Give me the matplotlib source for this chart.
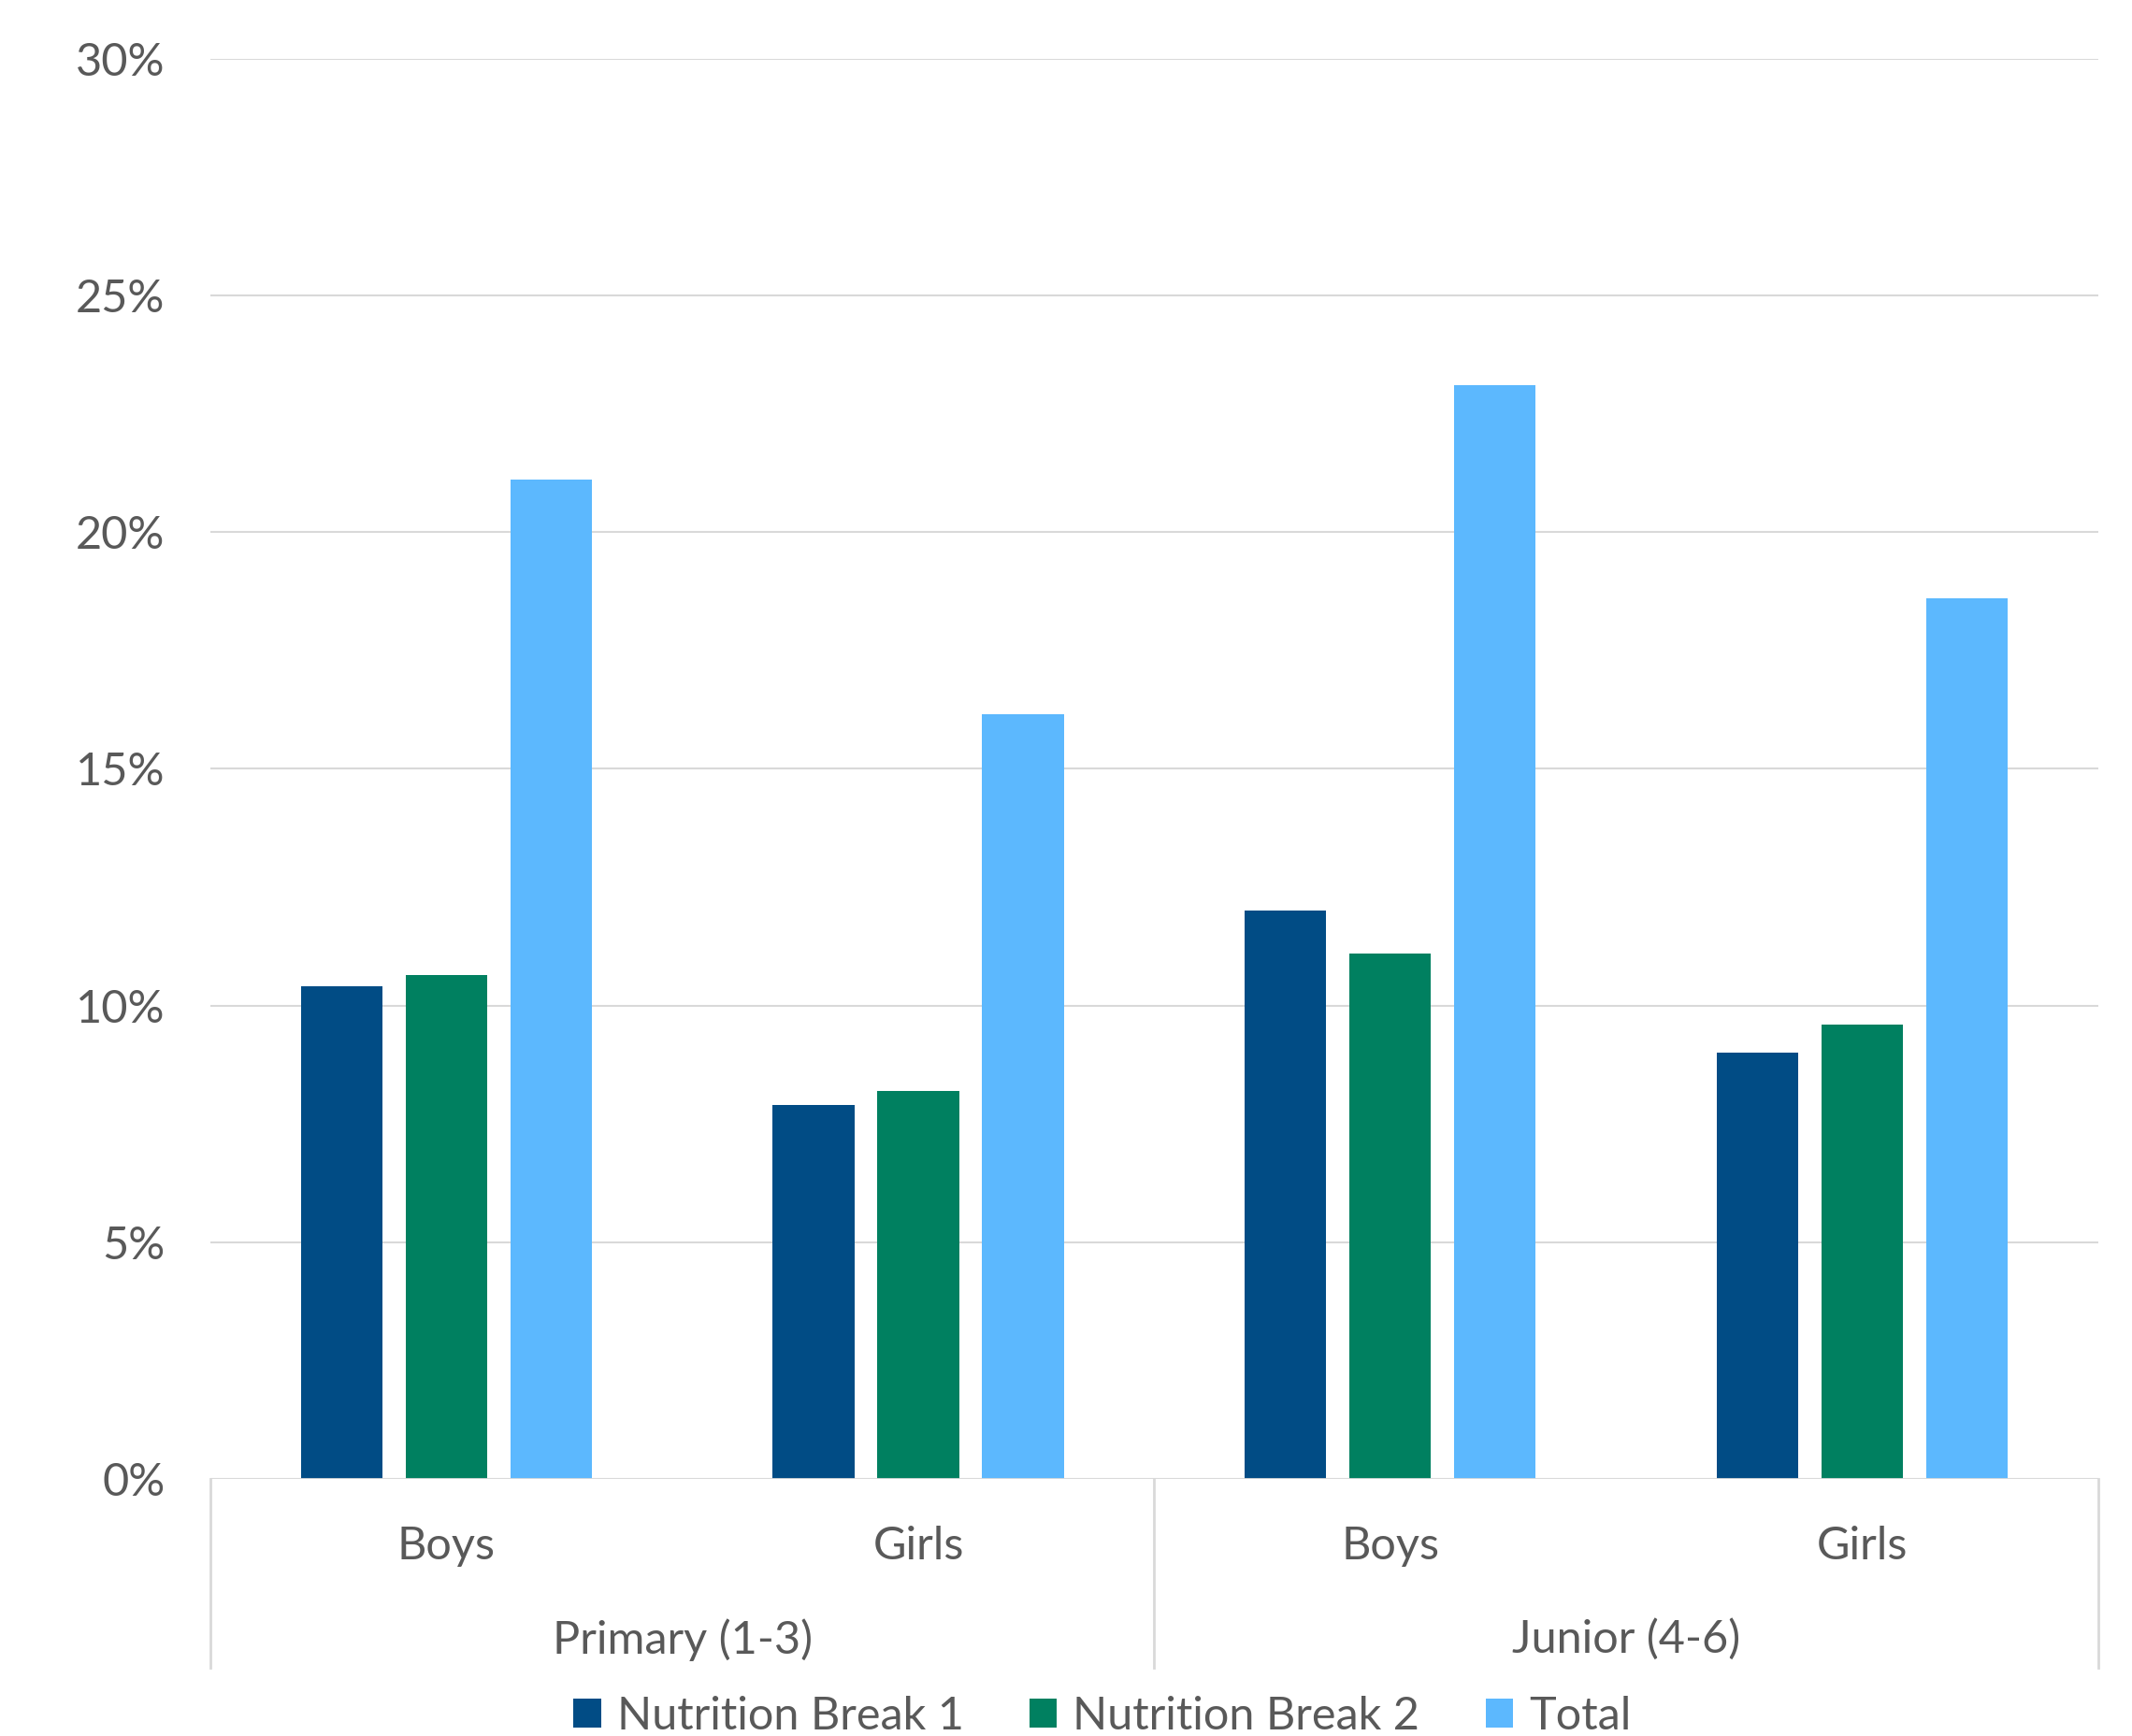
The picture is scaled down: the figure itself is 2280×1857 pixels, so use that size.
import matplotlib.pyplot as plt
from matplotlib import transforms
import numpy as np

# data (percent)
groups = ["Primary (1-3)", "Junior (4-6)"]
genders = ["Boys", "Girls", "Boys", "Girls"]
series = ["Nutrition Break 1", "Nutrition Break 2", "Total"]
break1 = [10.4, 7.9, 12.0, 9.0]
break2 = [10.65, 8.2, 11.1, 9.6]
total = [21.1, 16.15, 23.1, 18.6]
yticks = [0, 5, 10, 15, 20, 25, 30]

colors = ["#014C85", "#008060", "#5CB8FE"]
txt = "#595959"
grid = "#D9D9D9"
fs = 35

plt.rcParams['font.family'] = ['Lato', 'DejaVu Sans']

fig = plt.figure(figsize=(22.8, 18.57), dpi=100)
ax = fig.add_axes([0.0987, 0.148, 0.8853, 0.8183])

x = np.arange(len(genders))
w = 0.173
step = 0.222
for i, (vals, name) in enumerate(zip([break1, break2, total], series)):
    ax.bar(x + (i - 1) * step, vals, width=w, color=colors[i], label=name, zorder=3)

ax.set_xlim(-0.5, 3.5)
ax.set_ylim(0, 30)
ax.set_yticks(yticks)
ax.set_yticklabels([f"{t}%" for t in yticks])
ax.tick_params(axis='y', length=0, pad=35, labelsize=fs, labelcolor=txt)
ax.set_xticks([])
ax.grid(axis='y', color=grid, lw=1.5, zorder=0)
for s in ax.spines.values():
    s.set_visible(False)
ax.axhline(0, color=grid, lw=2, zorder=4)

# multi-level category axis
tr = transforms.blended_transform_factory(ax.transData, ax.transAxes)
for xv in [-0.5, 1.5, 3.5]:
    ax.plot([xv, xv], [0, -0.133], transform=tr, color=grid, lw=2, clip_on=False)
for xi, g in zip(x, genders):
    ax.text(xi, -0.047, g, transform=tr, ha='center', va='center', fontsize=fs, color=txt)
for xi, g in zip([0.5, 2.5], groups):
    ax.text(xi, -0.113, g, transform=tr, ha='center', va='center', fontsize=fs, color=txt)

leg = fig.legend(loc='center', bbox_to_anchor=(0.517, 0.0113), ncol=3, frameon=False,
                 fontsize=fs, handlelength=0.6, handleheight=0.6, handletextpad=0.35,
                 columnspacing=1.45)
for t in leg.get_texts():
    t.set_color(txt)

fig.savefig("out.png", dpi=100, facecolor='white')
